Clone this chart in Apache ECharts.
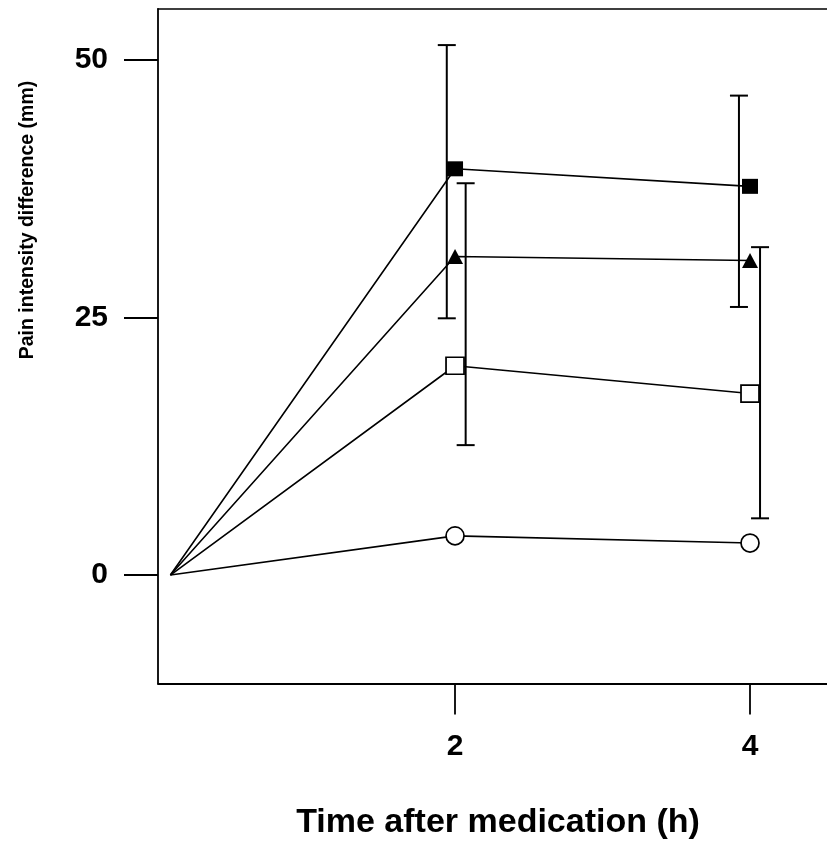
<!DOCTYPE html>
<html><head><meta charset="utf-8">
<script src="https://cdn.jsdelivr.net/npm/echarts@6/dist/echarts.min.js"></script>
<style>html,body{margin:0;padding:0;background:#fff}#c{width:827px;height:842px}</style>
</head><body><div id="c"></div>
<script>
// ---- data ----
const times = [0.07, 2, 4];
const filledSquare = [0, 39.4, 37.7];
const filledTriangle = [0, 30.9, 30.5];
const openSquare = [0, 20.3, 17.6];
const openCircle = [0, 3.8, 3.1];
const filledSquareErrX = [1.944, 3.925];
const filledSquareLow = [24.9, 26.0];
const filledSquareHigh = [51.4, 46.5];
const openSquareErrX = [2.072, 4.068];
const openSquareLow = [12.6, 5.5];
const openSquareHigh = [38.0, 31.8];
const yTicks = [0, 25, 50];
const xTicks = [2, 4];
const yTitle = 'Pain intensity difference (mm)';
const xTitle = 'Time after medication (h)';

const FONT = '"Liberation Sans", Arial, Helvetica, sans-serif';
const chart = echarts.init(document.getElementById('c'), null, {renderer: 'canvas'});

// first point (origin) has no marker in the reference
function pairs(xs, ys) {
  return xs.map((x, i) => i === 0 ? {value: [x, ys[i]], symbol: 'none'} : [x, ys[i]]);
}
function errData(xs, lo, hi) { return xs.map((x, i) => [x, lo[i], hi[i]]); }

function errRender(params, api) {
  const x = api.value(0), lo = api.value(1), hi = api.value(2);
  const pLo = api.coord([x, lo]), pHi = api.coord([x, hi]);
  const w = 9;
  const st = {stroke: '#000', lineWidth: 2};
  return {type: 'group', children: [
    {type: 'line', shape: {x1: pLo[0], y1: pLo[1], x2: pHi[0], y2: pHi[1]}, style: st},
    {type: 'line', shape: {x1: pHi[0] - w, y1: pHi[1], x2: pHi[0] + w, y2: pHi[1]}, style: st},
    {type: 'line', shape: {x1: pLo[0] - w, y1: pLo[1], x2: pLo[0] + w, y2: pLo[1]}, style: st}
  ]};
}

const lineBase = {
  type: 'line', xAxisIndex: 0, lineStyle: {color: '#000', width: 1.6}, animation: false,
  showAllSymbol: true, z: 3
};
const axisLineStyle = {color: '#000', width: 1.8};

chart.setOption({
  animation: false,
  backgroundColor: '#fff',
  grid: {left: 158, right: 0, top: 9, bottom: 158.5, show: false},
  xAxis: [{
    type: 'value', min: -0.014, max: 4.522, position: 'bottom',
    axisLine: {show: true, onZero: false, lineStyle: axisLineStyle},
    axisTick: {show: true, length: 31, customValues: xTicks, lineStyle: axisLineStyle},
    axisLabel: {customValues: xTicks, margin: 48, color: '#000', fontFamily: FONT,
                fontWeight: 'bold', fontSize: 30},
    splitLine: {show: false}
  }, {
    type: 'value', min: -0.014, max: 4.522, position: 'top',
    axisLine: {show: true, onZero: false, lineStyle: {color: '#000', width: 1.5}},
    axisTick: {show: false}, axisLabel: {show: false}, splitLine: {show: false}
  }],
  yAxis: {
    type: 'value', min: -10.52, max: 54.9,
    axisLine: {show: true, onZero: false, lineStyle: axisLineStyle},
    axisTick: {show: true, length: 34, customValues: yTicks, lineStyle: axisLineStyle},
    axisLabel: {customValues: yTicks, margin: 50, color: '#000', fontFamily: FONT,
                fontWeight: 'bold', fontSize: 30},
    splitLine: {show: false}
  },
  graphic: [
    {type: 'text', x: 28, y: 220, rotation: Math.PI / 2,
     style: {text: yTitle, fill: '#000', font: 'bold 19.5px ' + FONT, align: 'center', verticalAlign: 'middle'}},
    {type: 'text', x: 498, y: 823,
     style: {text: xTitle, fill: '#000', font: 'bold 34px ' + FONT, align: 'center', verticalAlign: 'middle'}}
  ],
  series: [
    {type: 'custom', xAxisIndex: 0, renderItem: errRender, encode: {x: 0, y: [1, 2]},
     data: errData(filledSquareErrX, filledSquareLow, filledSquareHigh), z: 2},
    {type: 'custom', xAxisIndex: 0, renderItem: errRender, encode: {x: 0, y: [1, 2]},
     data: errData(openSquareErrX, openSquareLow, openSquareHigh), z: 2},
    Object.assign({}, lineBase, {data: pairs(times, filledSquare), symbol: 'rect', symbolSize: [16, 15],
      itemStyle: {color: '#000'}}),
    Object.assign({}, lineBase, {data: pairs(times, filledTriangle), symbol: 'triangle', symbolSize: [16, 15],
      itemStyle: {color: '#000'}}),
    Object.assign({}, lineBase, {data: pairs(times, openSquare), symbol: 'rect', symbolSize: [18, 17],
      itemStyle: {color: '#fff', borderColor: '#000', borderWidth: 1.7}}),
    Object.assign({}, lineBase, {data: pairs(times, openCircle), symbol: 'circle', symbolSize: 18,
      itemStyle: {color: '#fff', borderColor: '#000', borderWidth: 1.7}})
  ]
});
</script>
</body></html>
